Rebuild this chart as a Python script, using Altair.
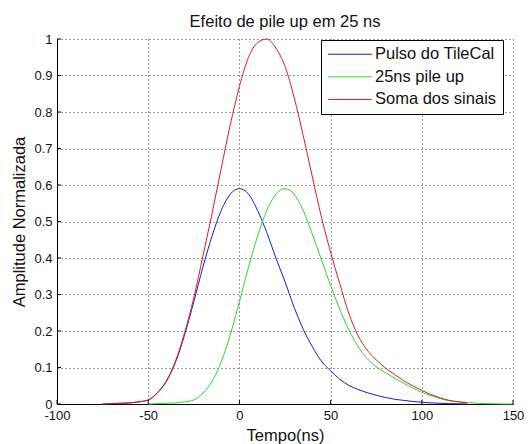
import altair as alt
import pandas as pd

# ---- data ----
tempo_pulso = [-75, -70, -65, -60, -55, -50, -45, -40, -35, -30, -25, -20, -15, -10, -5,
               0, 5, 10, 15, 20, 25, 30, 35, 40, 45, 50, 55, 60, 65, 70, 75, 80, 85, 90,
               95, 100, 105, 110, 115, 120, 125]
amp_pulso = [0.0, 0.001, 0.002, 0.003, 0.006, 0.011, 0.03, 0.062, 0.115, 0.19, 0.28, 0.375,
             0.46, 0.53, 0.575, 0.59, 0.575, 0.53, 0.47, 0.40, 0.335, 0.265, 0.205, 0.157,
             0.117, 0.091, 0.068, 0.051, 0.04, 0.031, 0.024, 0.018, 0.013, 0.01, 0.007,
             0.005, 0.003, 0.002, 0.001, 0.0005, 0.0]

tempo_pileup = [-50, -45, -40, -35, -30, -25, -20, -15, -10, -5, 0, 5, 10, 15, 20, 25, 30,
                35, 40, 45, 50, 55, 60, 65, 70, 75, 80, 85, 90, 95, 100, 105, 110, 115, 120,
                125, 130, 135, 140, 145, 150]
amp_pileup = [0.0, 0.001, 0.002, 0.003, 0.006, 0.011, 0.03, 0.062, 0.115, 0.19, 0.28, 0.375,
              0.46, 0.53, 0.575, 0.59, 0.575, 0.53, 0.465, 0.395, 0.325, 0.26, 0.203, 0.158,
              0.125, 0.102, 0.086, 0.071, 0.057, 0.044, 0.032, 0.023, 0.015, 0.009, 0.006,
              0.004, 0.002, 0.001, 0.0005, 0.0, 0.0]

tempo_soma = [-75, -70, -65, -60, -55, -50, -45, -40, -35, -30, -25, -20, -15, -10, -5,
              0, 5, 10, 15, 20, 25, 30, 35, 40, 45, 50, 55, 60, 65, 70, 75, 80, 85, 90,
              95, 100, 105, 110, 115, 120, 125]
amp_soma = [0.0, 0.001, 0.002, 0.003, 0.006, 0.011, 0.031, 0.064, 0.118, 0.196, 0.291, 0.405,
            0.522, 0.645, 0.765, 0.87, 0.95, 0.99, 1.0, 0.975, 0.925, 0.84, 0.735, 0.622,
            0.512, 0.416, 0.33, 0.248, 0.188, 0.148, 0.121, 0.099, 0.081, 0.064, 0.05,
            0.037, 0.026, 0.017, 0.01, 0.006, 0.003]

series_names = ["Pulso do TileCal", "25ns pile up", "Soma dos sinais"]
series_colors = ["#1a1ad6", "#2ad82a", "#dc1e1e"]
x_ticks = [-100, -50, 0, 50, 100, 150]
y_ticks = [0, 0.1, 0.2, 0.3, 0.4, 0.5, 0.6, 0.7, 0.8, 0.9, 1]

titulo = "Efeito de pile up em 25 ns"
x_titulo = "Tempo(ns)"
y_titulo = "Amplitude Normalizada"

FONT = "Liberation Sans"

rows = []
for name, xs, ys in zip(series_names,
                        [tempo_pulso, tempo_pileup, tempo_soma],
                        [amp_pulso, amp_pileup, amp_soma]):
    for t, a in zip(xs, ys):
        rows.append({"tempo": t, "amp": a, "serie": name})
df = pd.DataFrame(rows)

x_scale = alt.Scale(domain=[-100, 150], nice=False, zero=False)
y_scale = alt.Scale(domain=[0, 1], nice=False, zero=False)

x_axis = alt.Axis(values=x_ticks, title=x_titulo, labelExpr="'' + datum.value",
                  labelFlush=False, labelOverlap=False, labelPadding=5, titlePadding=5)
y_axis = alt.Axis(values=y_ticks, title=y_titulo, labelExpr="'' + datum.value",
                  labelFlush=False, labelOverlap=False, labelPadding=5, titlePadding=6)

lines = alt.Chart(df).mark_line(strokeWidth=1, interpolate="monotone").encode(
    x=alt.X("tempo:Q", scale=x_scale, axis=x_axis),
    y=alt.Y("amp:Q", scale=y_scale, axis=y_axis),
    color=alt.Color("serie:N", sort=series_names,
                    scale=alt.Scale(domain=series_names, range=series_colors),
                    legend=alt.Legend(title=None, orient="none", legendX=264, legendY=1,
                                      fillColor="white", strokeColor="black", padding=6,
                                      rowPadding=5.6, labelFontSize=16.5, labelFont=FONT,
                                      labelColor="#111", symbolType="M-1,0H5",
                                      symbolSize=215, symbolStrokeWidth=1,
                                      labelOffset=31.5)),
)

xtick_df = pd.DataFrame({"tempo": x_ticks})
ytick_df = pd.DataFrame({"amp": y_ticks})

xticks_layer = alt.Chart(xtick_df).mark_rule(color="black", strokeWidth=1).encode(
    x=alt.X("tempo:Q", scale=x_scale, axis=x_axis), y=alt.value(365), y2=alt.value(361))
yticks_layer = alt.Chart(ytick_df).mark_rule(color="black", strokeWidth=1).encode(
    y=alt.Y("amp:Q", scale=y_scale, axis=y_axis), x=alt.value(0), x2=alt.value(4))

chart = alt.layer(lines, xticks_layer, yticks_layer).properties(
    width=456, height=365,
    autosize=alt.AutoSizeParams(type="none"),
    padding={"left": 57, "top": 39, "right": 18, "bottom": 40},
    background="white",
    title=alt.TitleParams(titulo, fontSize=16.5, font=FONT, fontWeight="normal",
                          color="#111", anchor="middle", baseline="alphabetic",
                          offset=6, dy=16),
).configure_view(strokeWidth=0).configure_axis(
    labelFont=FONT, labelFontSize=13, labelColor="#111",
    titleFont=FONT, titleFontSize=16.5, titleColor="#111", titleFontWeight="normal",
    domainColor="black", domainWidth=1, ticks=False,
    grid=True, gridColor="black", gridDash=[1, 3], gridWidth=1, gridOpacity=0.8,
)

chart.save("out.html", embed_options={"renderer": "svg", "actions": False})
